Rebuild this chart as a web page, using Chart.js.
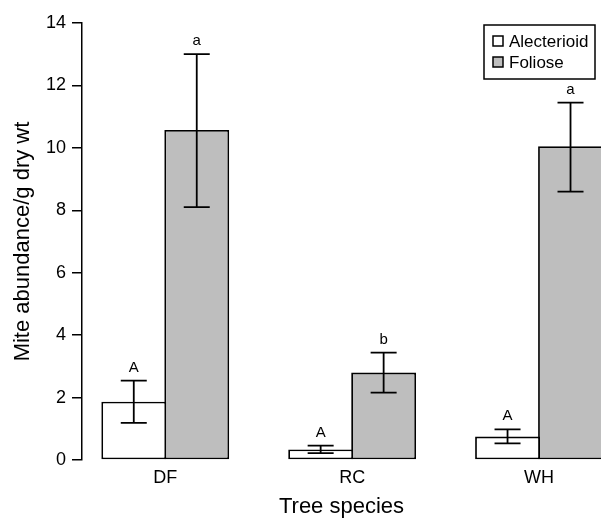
<!DOCTYPE html>
<html>
<head>
<meta charset="utf-8">
<script src="https://cdn.jsdelivr.net/npm/chart.js@4.4.1/dist/chart.umd.min.js"></script>
<style>
    html, body { margin: 0; padding: 0; background: #fff; overflow: hidden; }
    #grafico { display: block; }
</style>
</head>
<body>
<canvas id="grafico" width="601" height="519"></canvas>
<script>
// Dados do gráfico
const especies = ['DF', 'RC', 'WH'];
const posicoes = [1, 2, 3];
const mediaAlecterioid = [1.87, 0.34, 0.75];
const superiorAlecterioid = [2.54, 0.46, 0.98];
const inferiorAlecterioid = [1.19, 0.22, 0.53];
const mediaFoliose = [10.57, 2.80, 10.05];
const superiorFoliose = [13.0, 3.44, 11.45];
const inferiorFoliose = [8.1, 2.16, 8.6];
const letrasAlecterioid = ['A', 'A', 'A'];
const letrasFoliose = ['a', 'b', 'a'];
const ticksY = [0, 2, 4, 6, 8, 10, 12, 14];

const fonte = '"Liberation Sans", Arial, Helvetica, sans-serif';

// Barras de erro e letras
const pluginErros = {
    id: 'barrasErro',
    afterDatasetsDraw(chart) {
        const ctx = chart.ctx;
        const y = chart.scales.y;
        const limites = [
            { sup: superiorAlecterioid, inf: inferiorAlecterioid, letras: letrasAlecterioid },
            { sup: superiorFoliose, inf: inferiorFoliose, letras: letrasFoliose }
        ];
        ctx.save();
        ctx.strokeStyle = '#000';
        ctx.lineWidth = 1.8;
        ctx.fillStyle = '#000';
        ctx.font = '15px ' + fonte;
        ctx.textAlign = 'center';
        ctx.textBaseline = 'alphabetic';
        limites.forEach((lim, d) => {
            chart.getDatasetMeta(d).data.forEach((barra, i) => {
                const x = barra.x;
                const yS = y.getPixelForValue(lim.sup[i]);
                const yI = y.getPixelForValue(lim.inf[i]);
                ctx.beginPath();
                ctx.moveTo(x, yS); ctx.lineTo(x, yI);
                ctx.moveTo(x - 13, yS); ctx.lineTo(x + 13, yS);
                ctx.moveTo(x - 13, yI); ctx.lineTo(x + 13, yI);
                ctx.stroke();
                ctx.fillText(lim.letras[i], x, yS - 9);
            });
        });
        ctx.restore();
    }
};

// Legenda desenhada dentro do gráfico
const pluginLegenda = {
    id: 'legendaCaixa',
    afterDraw(chart) {
        const ctx = chart.ctx;
        ctx.save();
        ctx.strokeStyle = '#000';
        ctx.lineWidth = 1.5;
        ctx.strokeRect(484, 25, 111, 54);
        ctx.font = '17px ' + fonte;
        ctx.textBaseline = 'middle';
        ctx.textAlign = 'left';
        chart.data.datasets.forEach((ds, i) => {
            const cy = 41 + i * 21;
            ctx.fillStyle = ds.backgroundColor;
            ctx.fillRect(493, cy - 5, 10, 10);
            ctx.strokeRect(493, cy - 5, 10, 10);
            ctx.fillStyle = '#000';
            ctx.fillText(ds.label, 509, cy + 1);
        });
        ctx.restore();
    }
};

const ctx = document.getElementById('grafico').getContext('2d');
new Chart(ctx, {
    type: 'bar',
    data: {
        datasets: [{
            label: 'Alecterioid',
            data: posicoes.map((p, i) => ({ x: p, y: mediaAlecterioid[i] })),
            backgroundColor: '#ffffff',
            borderColor: '#000000',
            borderWidth: 1.8,
            borderSkipped: false
        }, {
            label: 'Foliose',
            data: posicoes.map((p, i) => ({ x: p, y: mediaFoliose[i] })),
            backgroundColor: '#bebebe',
            borderColor: '#000000',
            borderWidth: 1.8,
            borderSkipped: false
        }]
    },
    options: {
        responsive: false,
        animation: false,
        devicePixelRatio: 1,
        categoryPercentage: 0.674,
        barPercentage: 1.03,
        layout: { padding: { top: 23, right: 0, bottom: 0, left: 0 } },
        plugins: {
            legend: { display: false },
            tooltip: { enabled: false }
        },
        scales: {
            x: {
                type: 'linear',
                min: 0.5545,
                max: 3.3316,
                offset: false,
                grid: { display: false, drawTicks: false },
                border: { display: false },
                afterBuildTicks(scale) {
                    scale.ticks = posicoes.map(v => ({ value: v }));
                },
                afterFit(scale) { scale.height = 59; },
                ticks: {
                    color: '#000',
                    padding: 7,
                    font: { family: fonte, size: 18 },
                    callback: v => especies[posicoes.indexOf(v)] || ''
                },
                title: {
                    display: true,
                    text: 'Tree species',
                    color: '#000',
                    font: { family: fonte, size: 22, lineHeight: 1.1 },
                    padding: { top: 0, bottom: 0 }
                }
            },
            y: {
                min: 0,
                max: 14,
                afterBuildTicks(scale) {
                    scale.ticks = ticksY.map(v => ({ value: v }));
                },
                afterFit(scale) { scale.width = 82; },
                grid: {
                    drawOnChartArea: false,
                    drawTicks: true,
                    tickLength: 10,
                    color: '#000',
                    lineWidth: 1.5
                },
                border: { display: true, color: '#000', width: 1.5 },
                ticks: {
                    color: '#000',
                    padding: 6,
                    font: { family: fonte, size: 18 }
                },
                title: {
                    display: true,
                    text: 'Mite abundance/g dry wt',
                    color: '#000',
                    font: { family: fonte, size: 22, lineHeight: 1.2 },
                    padding: { top: 10, bottom: 0 }
                }
            }
        }
    },
    plugins: [pluginErros, pluginLegenda]
});
</script>
</body>
</html>
